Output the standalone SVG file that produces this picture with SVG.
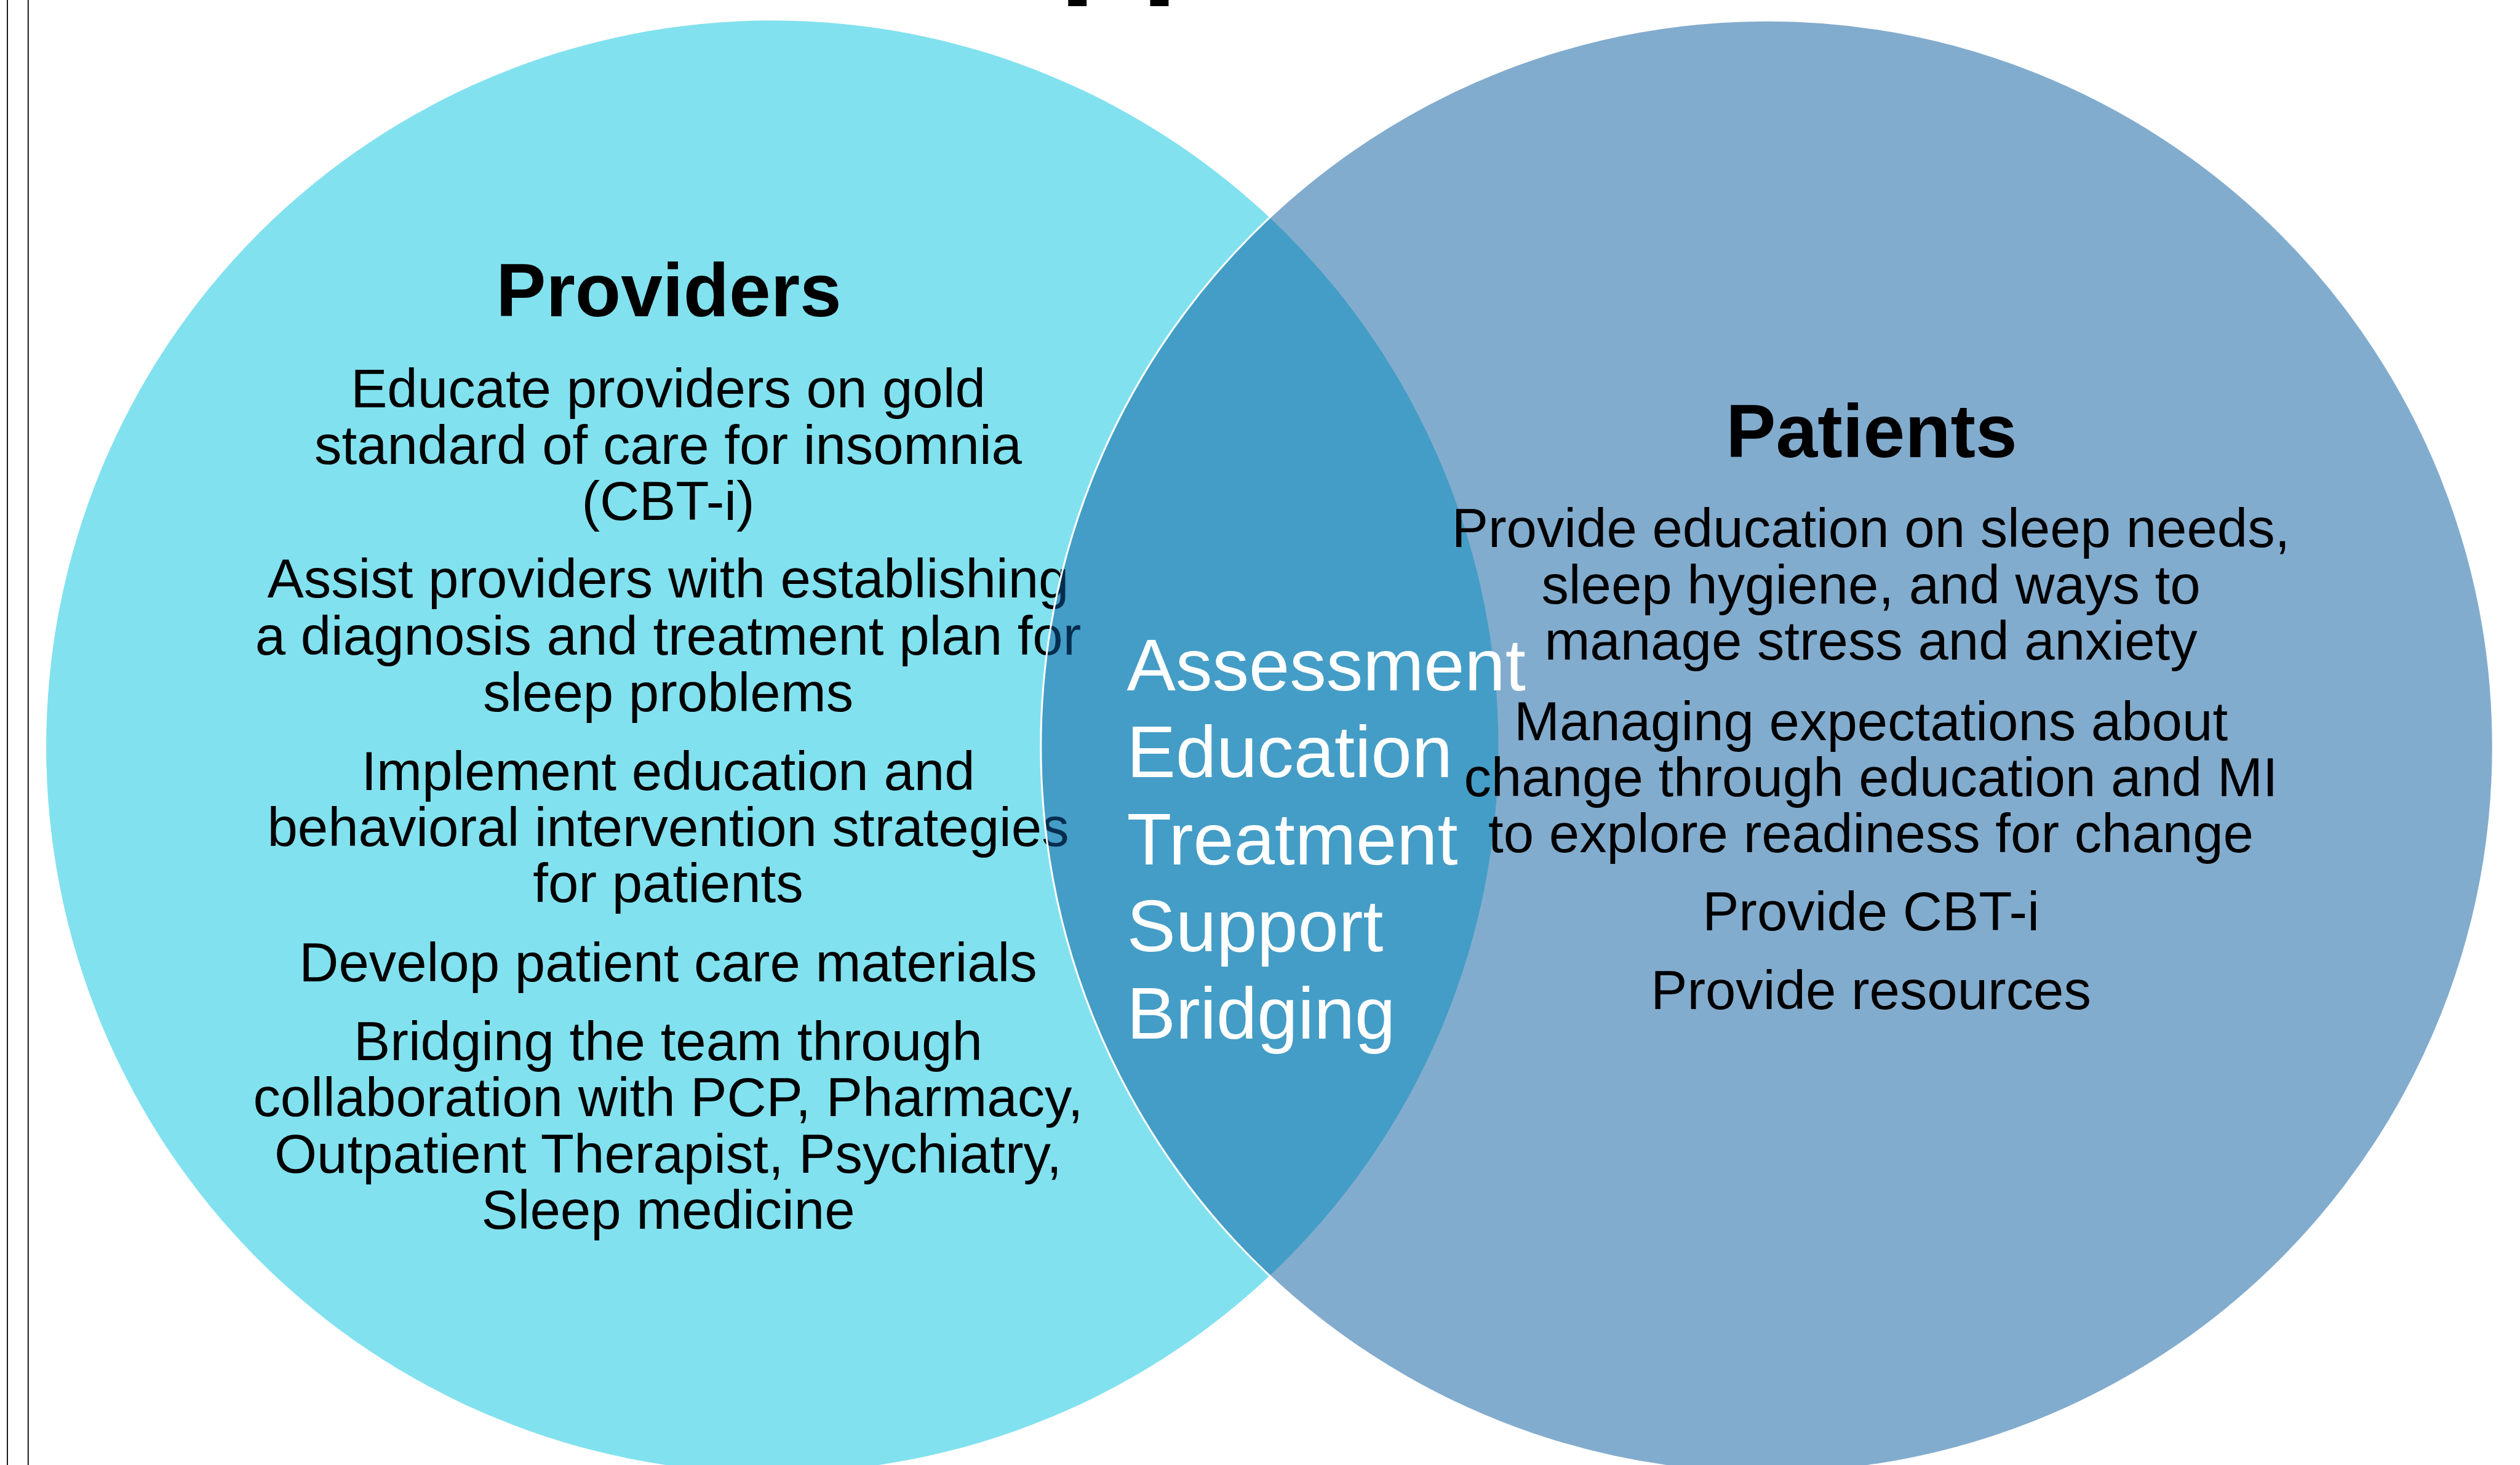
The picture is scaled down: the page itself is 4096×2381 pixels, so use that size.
<svg xmlns="http://www.w3.org/2000/svg" width="4096" height="2381" viewBox="0 0 4096 2381">
  <style>
    text { font-family: "Liberation Sans", Arial, sans-serif; }
    .head { font-size: 121.7px; font-weight: bold; fill: #000; text-anchor: middle; }
    .body { font-size: 88.8px; fill: #000; text-anchor: middle; }
    .core { font-size: 119px; fill: #fff; }
    .rule { stroke: #000; stroke-width: 1.8; }
  </style>

  <rect x="0" y="0" width="4096" height="2381" fill="#fff"/>

  <!-- page frame rules at the left edge -->
  <line class="rule" x1="12" y1="0" x2="12" y2="2381"/>
  <line class="rule" x1="45.8" y1="0" x2="45.8" y2="2381"/>

  <!-- title line, mostly above the visible area -->
  <text x="1721" y="-35" font-size="218" font-weight="bold" fill="#000">pp</text>

  <!-- left set -->
  <g id="providers">
    <circle cx="1255.3" cy="1213.5" r="1180.2" fill="#82E1EF"/>
    <text class="head" x="1087" y="513.5">Providers</text>
    <text class="body" x="1086" y="661.9">Educate providers on gold</text>
    <text class="body" x="1086" y="753.7">standard of care for insomnia</text>
    <text class="body" x="1086" y="844.5">(CBT-i)</text>
    <text class="body" x="1086" y="971.3">Assist providers with establishing</text>
    <text class="body" x="1086" y="1063.9">a diagnosis and treatment plan for</text>
    <text class="body" x="1086" y="1155.5">sleep problems</text>
    <text class="body" x="1086" y="1283.9">Implement education and</text>
    <text class="body" x="1086" y="1374.7">behavioral intervention strategies</text>
    <text class="body" x="1086" y="1466.4">for patients</text>
    <text class="body" x="1086" y="1595.2">Develop patient care materials</text>
    <text class="body" x="1086" y="1722.6">Bridging the team through</text>
    <text class="body" x="1086" y="1814.3">collaboration with PCP, Pharmacy,</text>
    <text class="body" x="1086" y="1906.4">Outpatient Therapist, Psychiatry,</text>
    <text class="body" x="1086" y="1997.4">Sleep medicine</text>
  </g>

  <!-- right set, translucent so the overlap darkens -->
  <g id="patients">
    <circle cx="2872" cy="1213.5" r="1180.2" fill="rgb(5,90,158)" fill-opacity="0.5" stroke="#fff" stroke-width="3"/>
    <text class="head" x="3042" y="742.7">Patients</text>
    <text class="body" x="3041" y="888.6">Provide education on sleep needs,</text>
    <text class="body" x="3041" y="981.4">sleep hygiene, and ways to</text>
    <text class="body" x="3041" y="1072.3">manage stress and anxiety</text>
    <text class="body" x="3041" y="1202.7">Managing expectations about</text>
    <text class="body" x="3041" y="1293.7">change through education and MI</text>
    <text class="body" x="3041" y="1385">to explore readiness for change</text>
    <text class="body" x="3041" y="1512.1">Provide CBT-i</text>
    <text class="body" x="3041" y="1640">Provide resources</text>
  </g>

  <!-- shared area labels -->
  <g id="overlap">
    <text class="core" x="1831.6" y="1122.2">Assessment</text>
    <text class="core" x="1831.6" y="1263.4">Education</text>
    <text class="core" x="1831.6" y="1404.6">Treatment</text>
    <text class="core" x="1831.6" y="1546.3">Support</text>
    <text class="core" x="1831.6" y="1688">Bridging</text>
  </g>
</svg>
